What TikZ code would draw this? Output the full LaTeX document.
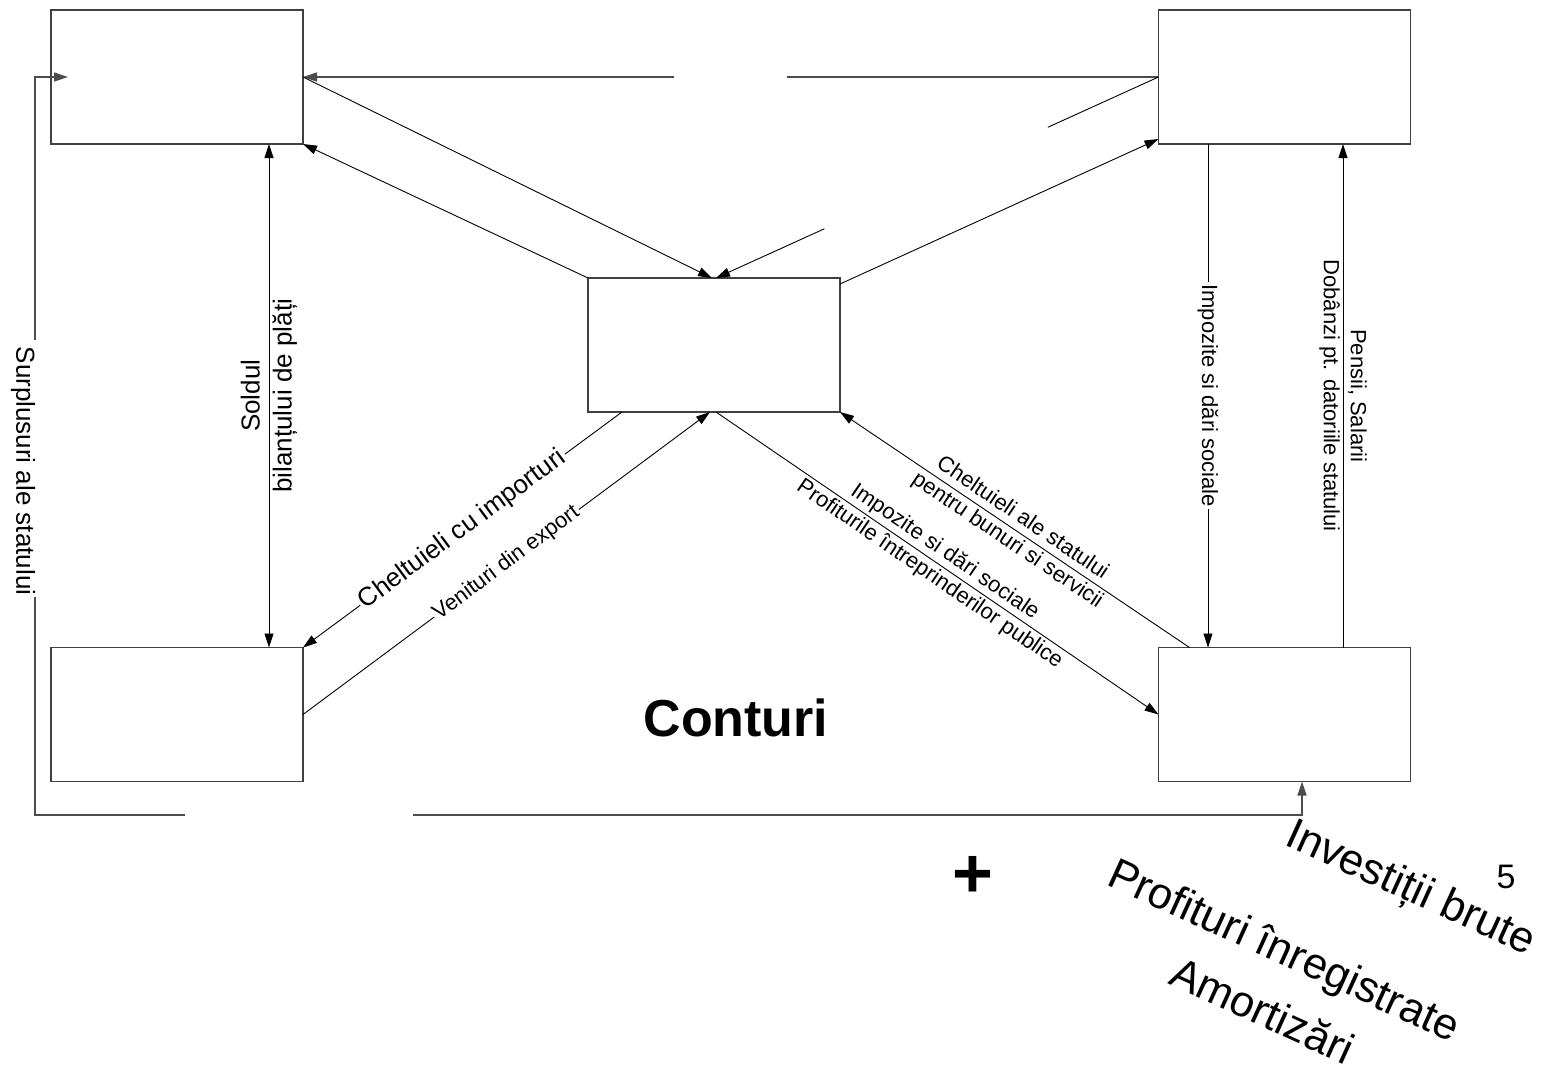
\documentclass[tikz,border=0pt]{standalone}
\usepackage{fontspec}
\setmainfont{Liberation Sans}
\usetikzlibrary{arrows.meta,calc}
\begin{document}
\begin{tikzpicture}[x=0.5pt,y=-0.5pt,
  box/.style={draw=black!75,line width=0.7pt,minimum width=126pt,minimum height=67pt,inner sep=0pt,outer sep=0pt},
  conn/.style={draw=black,line width=0.45pt},
  frame/.style={draw=black!70,line width=0.7pt},
  arr/.style={-{Triangle[length=7pt,width=4.5pt]}},
  darr/.style={{Triangle[length=7pt,width=4.5pt]}-{Triangle[length=7pt,width=4.5pt]}},
  lblbig/.style={font=\fontsize{13}{16}\selectfont,align=center,inner sep=1pt},
  lblmid/.style={font=\fontsize{11}{13.5}\selectfont,align=center,inner sep=1pt},
  lblsmall/.style={font=\fontsize{11}{13}\selectfont,align=center,inner sep=1pt},
  bigtxt/.style={font=\fontsize{21.8}{25}\selectfont,inner sep=0pt,rotate=-24.5}]
\useasboundingbox (0,0) rectangle (1553,1067);
% boxes
\node[box] (tl) at (177,77) {};
\node[box] (tr) at (1284.5,77) {};
\node[box] (c) at (714,345) {};
\node[box] (bl) at (177,714.5) {};
\node[box] (br) at (1284.5,714.5) {};
% top horizontal TR -> TL (with gap)
\coordinate (ga1) at (674,77);
\coordinate (ga2) at (787,77);
\draw[frame,arr] (ga1) -- (tl.east);
\draw[frame] (tr.west) -- (ga2);
% TR -> centre top (with gap)
\coordinate (cn2) at ($(c.north)+(2,0)$);
\draw[conn] (tr.west) -- ($(tr.west)!0.25!(cn2)$);
\draw[conn,arr] ($(tr.west)!0.755!(cn2)$) -- (cn2);
% TL -> centre top
\draw[conn,arr] (tl.east) -- ($(c.north)+(-2,0)$);
% centre -> TL
\draw[conn,arr] (c.north west) -- (tl.south east);
% centre -> TR
\draw[conn,arr] ($(c.north east)+(0,6)$) -- ($(tr.south west)+(0,-5)$);
% TL <-> BL
\draw[conn,darr] ($(tl.south)+(92,0)$) -- node[lblbig,rotate=90] {Soldul\\bilanțului de plăți} ($(bl.north)+(92,0)$);
% centre -> BL
\draw[conn,arr] ($(c.south west)+(34,0)$) -- node[lblbig,sloped,fill=white] {Cheltuieli cu importuri} (bl.north east);
% BL -> centre
\draw[conn,arr] (bl.east) -- node[lblsmall,sloped,fill=white] {Venituri din export} ($(c.south)+(-4,0)$);
% centre -> BR
\draw[conn,arr] ($(c.south)+(2,0)$) -- node[lblmid,sloped] {Impozite si dări sociale\\Profiturile întreprinderilor publice} (br.west);
% BR -> centre
\draw[conn,arr] ($(br.north west)+(31,0)$) -- node[lblmid,sloped] {Cheltuieli ale statului\\pentru bunuri si servicii} (c.south east);
% TR -> BR
\draw[conn,arr] ($(tr.south)+(-76.5,0)$) -- node[lblmid,fill=white,rotate=-90] {Impozite si dări sociale} ($(br.north)+(-76.5,0)$);
% BR -> TR
\draw[conn,arr] ($(br.north)+(58.5,0)$) -- node[lblmid,rotate=-90] {Pensii, Salarii\\Dobânzi pt. datoriile statului} ($(tr.south)+(58.5,0)$);
% left / bottom loop
\coordinate (m1) at (185,815);
\coordinate (m2) at (413,815);
\coordinate (lc) at (35,815);
\coordinate (lg1) at (35,597);
\coordinate (lg2) at (35,340);
\coordinate (lt) at (35,77);
\coordinate (rc) at (1302,815);
\draw[frame] (m1) -- (lc) -- (lg1);
\draw[frame,arr] (lg2) -- (lt) -- ($(tl.west)+(17,0)$);
\node[lblbig,rotate=-90] (surp) at (23,471) {Surplusuri ale statului};
\draw[frame,arr] (m2) -- (rc) -- ($(br.south)+(17.5,0)$);
% free texts
\node[font=\bfseries\fontsize{26}{30}\selectfont] (conturi) at (736,718) {Conturi};
\node[font=\bfseries\fontsize{35}{40}\selectfont] (plus) at (973,877) {+};
\node[font=\fontsize{17}{20}\selectfont] (five) at (1506,877) {5};
\node[bigtxt] (inv) at (1410,890) {Investiții brute};
\node[bigtxt] (prof) at (1283,953) {Profituri înregistrate};
\node[bigtxt] (amort) at (1263,1010) {Amortizări};
\end{tikzpicture}
\end{document}
